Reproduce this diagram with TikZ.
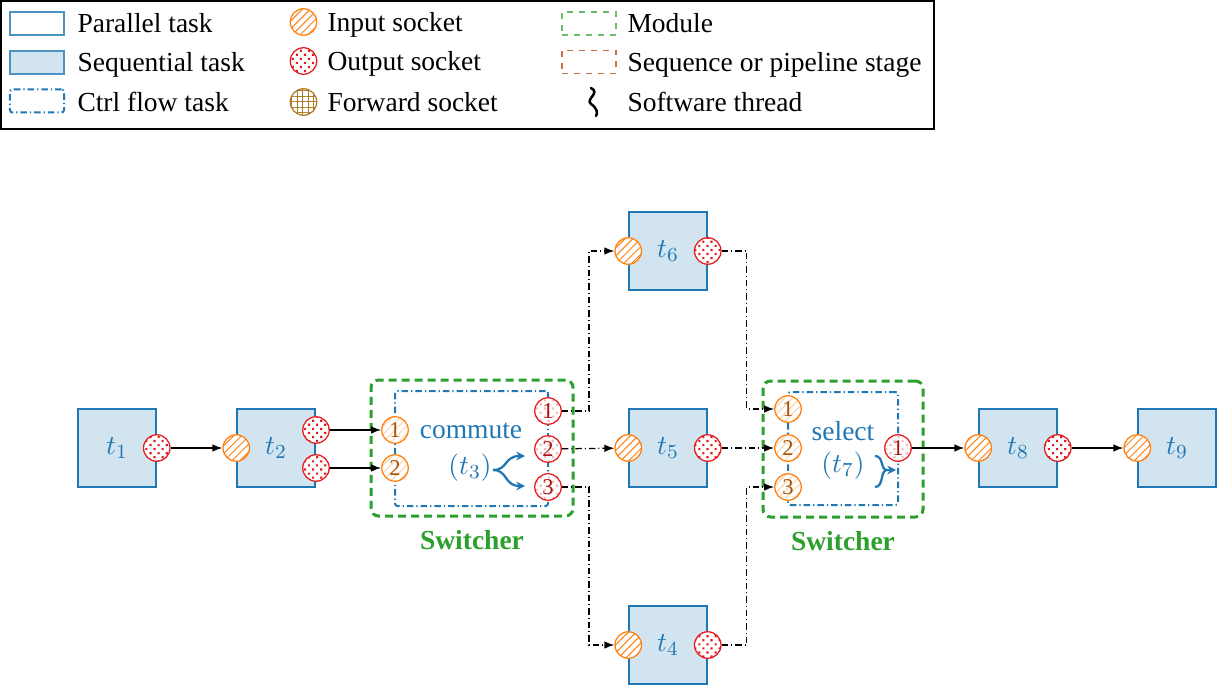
\documentclass[tikz,border=0pt]{standalone}
\usepackage{fontspec}
\setmainfont{Liberation Serif}
\usetikzlibrary{arrows.meta,patterns.meta,positioning}
\definecolor{tblue}{RGB}{31,119,180}
\definecolor{torange}{RGB}{255,127,14}
\definecolor{tred}{RGB}{228,26,28}
\definecolor{tgreen}{RGB}{44,160,44}
\definecolor{tbrown}{RGB}{200,112,70}
\definecolor{tgold}{RGB}{175,125,40}

\begin{document}
\begin{tikzpicture}[x=0.4pt, y=-0.4pt, font=\fontsize{11}{13}\selectfont]
\tikzstyle{task} = [rectangle, draw=tblue, fill=tblue!20, line width=0.6pt, minimum width=31.2pt, minimum height=31.2pt, inner sep=0pt, text=tblue]
\tikzstyle{ltask} = [rectangle, draw=tblue!80, line width=0.6pt, minimum width=21.6pt, minimum height=9.2pt, inner sep=0pt]
\tikzstyle{ctrl} = [rectangle, draw=tblue, line width=0.8pt, rounded corners=1pt, dash pattern=on 2.6pt off 1.2pt on 0.5pt off 1.2pt, inner sep=0pt]
\tikzstyle{module} = [rectangle, draw=tgreen, line width=1.2pt, rounded corners=3pt, dash pattern=on 3.2pt off 2pt, inner sep=0pt]
\tikzstyle{lmodule} = [rectangle, draw=tgreen!70, line width=0.5pt, dash pattern=on 2.4pt off 2.4pt, minimum width=21.6pt, minimum height=9.2pt, inner sep=0pt]
\tikzstyle{sock} = [circle, line width=0.5pt, minimum size=10.6pt, inner sep=0pt, preaction={fill=white}]
\tikzstyle{isock} = [sock, draw=torange, pattern={Lines[angle=45,distance=2.2pt,line width=0.4pt]}, pattern color=torange]
\tikzstyle{osock} = [sock, draw=tred, pattern={Dots[radius=0.6pt,distance=2.3pt,angle=45]}, pattern color=tred]
\tikzstyle{fsock} = [sock, draw=tgold, pattern={Hatch[distance=2.2pt,line width=0.4pt]}, pattern color=tgold]
\tikzstyle{isockn} = [isock, pattern color=torange!35, text=torange!65!black, font=\fontsize{9}{9}\selectfont]
\tikzstyle{osockn} = [osock, pattern color=tred!30, text=tred!75!black, font=\fontsize{9}{9}\selectfont]
\tikzstyle{ltext} = [anchor=base west, inner sep=0pt]
\tikzstyle{ctext} = [text=tblue, inner sep=0pt]
\tikzstyle{modlabel} = [text=tgreen, font=\fontsize{11}{13}\selectfont\bfseries, inner sep=0pt]
\tikzstyle{edge} = [-{Latex[length=4pt,width=3pt]}, line width=0.5pt]
\tikzstyle{cedge} = [edge, dash pattern=on 2.6pt off 1.2pt on 0.4pt off 1.2pt]
\tikzstyle{fork} = [-{Stealth[length=3.5pt,width=3.5pt]}, tblue, line width=0.9pt]
\useasboundingbox (0,0) rectangle (1217,685);
% -----------------------------------
% Legend
\draw[line width=0.5pt] (1,1) rectangle (934,129);
\node[ltask] (lpar) at (37,23.5) {};
\node[ltask, fill=tblue!20] (lseq) at (37,62.5) {};
\node[ltask, ctrl, minimum width=21.6pt, minimum height=9.2pt] (lctrl) at (37,101) {};
\node[ltext] (tpar) at (77,33) {Parallel task};
\node[ltext] (tseq) at (77,72) {Sequential task};
\node[ltext] (tctrl) at (77,112) {Ctrl flow task};

\node[isock] (lin) at (303.5,22) {};
\node[osock] (lout) at (303.5,61) {};
\node[fsock] (lfwd) at (303.5,102) {};
\node[ltext] (tin) at (327,32) {Input socket};
\node[ltext] (tout) at (327,71) {Output socket};
\node[ltext] (tfwd) at (327,112) {Forward socket};

\node[lmodule] (lmod) at (589,23.5) {};
\node[lmodule, draw=tbrown] (lstage) at (589,62) {};
\draw[line width=1pt, line cap=round] (591,88) .. controls (601,93) and (585,99) .. (591,104) .. controls (597,108) and (598,113) .. (596,116);
\node[ltext] (tmod) at (627,33) {Module};
\node[ltext] (tstage) at (627,72) {Sequence or pipeline stage};
\node[ltext] (tthr) at (627,112) {Software thread};

% -----------------------------------
% Tasks
\node[task] (t1) at (117,448) {$t_1$};
\node[osock] (t1o) at (t1.east) {};
\node[task] (t2) at (276,448) {$t_2$};
\node[isock] (t2i) at (t2.west) {};
\node[osock] (t2o1) at (316,430) {};
\node[osock] (t2o2) at (316,468) {};

\node[task] (t6) at (668,251) {$t_6$};
\node[isock] (t6i) at (t6.west) {};
\node[osock] (t6o) at (t6.east) {};
\node[task] (t5) at (668,448) {$t_5$};
\node[isock] (t5i) at (t5.west) {};
\node[osock] (t5o) at (t5.east) {};
\node[task] (t4) at (668,645) {$t_4$};
\node[isock] (t4i) at (t4.west) {};
\node[osock] (t4o) at (t4.east) {};

\node[task] (t8) at (1018,448) {$t_8$};
\node[isock] (t8i) at (t8.west) {};
\node[osock] (t8o) at (t8.east) {};
\node[task] (t9) at (1177,448) {$t_9$};
\node[isock] (t9i) at (t9.west) {};

% -----------------------------------
% Switcher 1 (commute)
\node[module, minimum width=80.8pt, minimum height=54.4pt] (m1) at (472,448) {};
\node[modlabel, below=5pt of m1] (m1l) {Switcher};
\node[ctrl, minimum width=61.2pt, minimum height=46pt] (t3) at (471.5,448.5) {};
\node[ctext] (t3a) at (471,431) {commute};
\node[ctext] (t3b) at (470,468) {$(t_3)$};
\draw[fork] (493,470) .. controls (508,470) and (504,456) .. (525,456);
\draw[fork] (493,470) .. controls (508,470) and (504,486) .. (525,486);
\node[isockn] (t3i1) at (395,430) {1};
\node[isockn] (t3i2) at (395,468) {2};
\node[osockn] (t3o1) at (548,411) {1};
\node[osockn] (t3o2) at (548,449) {2};
\node[osockn] (t3o3) at (548,487) {3};

% -----------------------------------
% Switcher 2 (select)
\node[module, minimum width=64pt, minimum height=54.4pt] (m2) at (843,449) {};
\node[modlabel, below=5pt of m2] (m2l) {Switcher};
\node[ctrl, minimum width=44pt, minimum height=45.2pt] (t7) at (843,448.5) {};
\node[ctext] (t7a) at (843,431) {select};
\node[ctext] (t7b) at (843,466) {$(t_7)$};
\draw[tblue, line width=0.9pt] (875,456) .. controls (884,456) and (880,470) .. (887,470) .. controls (880,470) and (884,487) .. (875,487);
\draw[fork] (887,470) -- (896,470);
\node[isockn] (t7i1) at (788,409) {1};
\node[isockn] (t7i2) at (788,448) {2};
\node[isockn] (t7i3) at (788,487) {3};
\node[osockn] (t7o) at (898,448) {1};

% -----------------------------------
% Data flow
\draw[edge] (t1o)--(t2i);
\draw[edge] (t2o1)--(t3i1);
\draw[edge] (t2o2)--(t3i2);
\draw[cedge] (t3o1) -- ++(41,0) |- (t6i);
\draw[cedge] (t3o2)--(t5i);
\draw[cedge] (t3o3) -- ++(41,0) |- (t4i);
\draw[cedge] (t6o) -- ++(39,0) |- (t7i1);
\draw[cedge] (t5o)--(t7i2);
\draw[cedge] (t4o) -- ++(39,0) |- (t7i3);
\draw[edge] (t7o)--(t8i);
\draw[edge] (t8o)--(t9i);
% -----------------------------------
\end{tikzpicture}
\end{document}
